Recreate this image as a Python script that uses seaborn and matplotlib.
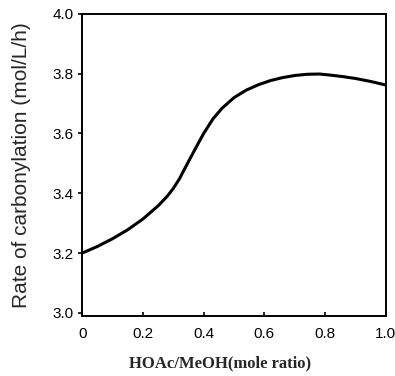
import matplotlib
matplotlib.use("Agg")
import matplotlib.pyplot as plt
import seaborn as sns
import pandas as pd

# Values
ratio = [0.0, 0.05, 0.10, 0.15, 0.20, 0.25, 0.28, 0.30, 0.32, 0.35, 0.38, 0.40, 0.43,
         0.46, 0.50, 0.54, 0.58, 0.62, 0.66, 0.70, 0.74, 0.78, 0.82, 0.86, 0.90, 0.95, 1.0]
rate = [3.200, 3.222, 3.248, 3.278, 3.314, 3.358, 3.390, 3.416, 3.448, 3.506, 3.563, 3.600, 3.648,
        3.684, 3.720, 3.745, 3.763, 3.777, 3.787, 3.794, 3.798, 3.799, 3.795, 3.790, 3.784, 3.774, 3.762]

xticks = [0, 0.2, 0.4, 0.6, 0.8, 1.0]
xticklabels = ["0", "0.2", "0.4", "0.6", "0.8", "1.0"]
yticks = [3.0, 3.2, 3.4, 3.6, 3.8, 4.0]
yticklabels = ["3.0", "3.2", "3.4", "3.6", "3.8", "4.0"]

df = pd.DataFrame({"ratio": ratio, "rate": rate})

sns.set_theme(style="ticks")
plt.rcParams["font.family"] = ["Liberation Sans", "DejaVu Sans"]

fig = plt.figure(figsize=(3.95, 3.76), dpi=100)
ax = fig.add_axes([0.208, 0.160, 0.769, 0.803])

sns.lineplot(data=df, x="ratio", y="rate", ax=ax, color="black", linewidth=2.2)

ax.set_xlim(0, 1.0)
ax.set_ylim(2.99, 4.0)
ax.set_xticks(xticks)
ax.set_xticklabels(xticklabels, fontsize=11)
ax.set_yticks(yticks)
ax.set_yticklabels(yticklabels, fontsize=11)

for s in ax.spines.values():
    s.set_visible(True)
    s.set_linewidth(1.4)
    s.set_color("black")

ax.tick_params(axis="x", direction="in", length=3, width=1.2, pad=8, colors="black")
ax.tick_params(axis="y", direction="out", length=3, width=1.2, pad=3, colors="black")

ax.set_xlabel("HOAc/MeOH(mole ratio)", fontsize=12, fontweight="bold",
              family=["Liberation Serif", "DejaVu Serif"])
ax.xaxis.set_label_coords(0.455, -0.13)
ax.set_ylabel("Rate of carbonylation (mol/L/h)", fontsize=15)
ax.yaxis.set_label_coords(-0.168, 0.5)

fig.savefig("out.png", dpi=100)
